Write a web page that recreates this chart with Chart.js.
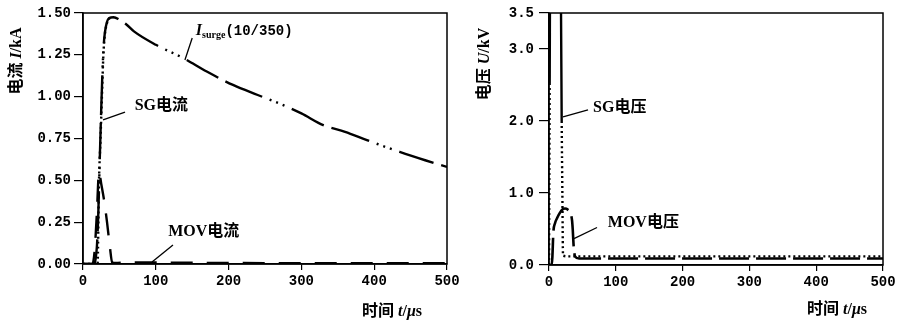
<!DOCTYPE html>
<html>
<head>
<meta charset="utf-8">
<script src="https://cdn.jsdelivr.net/npm/chart.js@4"></script>
<style>
  html, body { margin: 0; padding: 0; background: #fff; }
  #wrap { position: relative; width: 900px; height: 326px; overflow: hidden; background: #fff; }
  #left { position: absolute; left: 0; top: 0; }
  #right { position: absolute; left: 460px; top: 0; }
</style>
</head>
<body>
<div id="wrap">
  <canvas id="left" width="470" height="326"></canvas>
  <canvas id="right" width="440" height="326"></canvas>
</div>
<script>
// left panel: currents (kA) vs time (us)
const surgeT = [0, 14, 19, 21, 23, 25, 27, 29, 32, 36, 42, 50, 60, 70, 100, 138, 170, 206, 240, 275, 300, 330, 360, 390, 435, 470, 500];
const surgeI = [0, 0, 0.1, 0.3, 0.62, 0.92, 1.18, 1.34, 1.43, 1.47, 1.475, 1.46, 1.43, 1.39, 1.31, 1.23, 1.15, 1.07, 1.01, 0.95, 0.90, 0.83, 0.79, 0.74, 0.67, 0.62, 0.58];
const sgCurT = [0, 20, 22, 24, 26, 28, 30, 33, 37, 42];
const sgCurI = [0, 0, 0.5, 0.74, 1.0, 1.25, 1.37, 1.44, 1.47, 1.475];
const movCurT = [0, 13, 16, 19, 22, 25, 29, 33, 37, 40, 45, 60, 90, 130, 200, 300, 400, 500];
const movCurI = [0, 0, 0.08, 0.3, 0.55, 0.48, 0.38, 0.25, 0.1, 0.01, 0.006, 0.01, 0.01, 0.008, 0.006, 0.005, 0.005, 0.005];
const yTicksLeft = [0, 0.25, 0.5, 0.75, 1.0, 1.25, 1.5];

// right panel: voltages (kV) vs time (us)
const sgVoltT = [0, 1, 2, 17, 18, 19, 20, 21, 30, 60, 100, 200, 300, 400, 500];
const sgVoltU = [0, 2.5, 4.5, 4.5, 3.5, 2.0, 1.0, 0.13, 0.12, 0.12, 0.12, 0.12, 0.12, 0.12, 0.12];
const movVoltT = [0, 4, 5, 6.5, 9, 12, 16, 20, 24, 28, 32, 34.5, 35.5, 37, 39, 45, 100, 200, 300, 400, 500];
const movVoltU = [0, 0, 0.1, 0.45, 0.58, 0.65, 0.72, 0.77, 0.785, 0.77, 0.72, 0.62, 0.5, 0.25, 0.12, 0.09, 0.09, 0.09, 0.09, 0.09, 0.09];
const yTicksRight = [0, 1.0, 2.0, 3.0, 3.5];

const xTicks = [0, 100, 200, 300, 400, 500];

const SERIF = '"Liberation Serif", "Noto Sans CJK SC", serif';
const MONO = '"Liberation Mono", monospace';
const BOLD = 'bold 16px ' + SERIF;
const ITAL = 'italic bold 16px ' + SERIF;

function pts(xs, ys) {
  return xs.map((x, i) => ({ x: x, y: ys[i] }));
}

function drawParts(ctx, parts, x, y, align) {
  let w = 0;
  parts.forEach(p => { ctx.font = p.f; w += ctx.measureText(p.t).width; });
  let cx = align === 'center' ? x - w / 2 : x;
  ctx.textAlign = 'left';
  ctx.textBaseline = 'middle';
  parts.forEach(p => {
    ctx.font = p.f;
    ctx.fillText(p.t, cx, y + (p.dy || 0));
    cx += ctx.measureText(p.t).width;
  });
}

// frame, axis titles and labelled leader lines
function makeDecor(cfg) {
  return {
    id: 'decor',
    afterDraw(chart) {
      const { ctx, chartArea: a, scales } = chart;
      const sx = scales.x, sy = scales.y;
      ctx.save();
      ctx.strokeStyle = '#000';
      ctx.fillStyle = '#000';
      ctx.lineWidth = 1.5;
      ctx.strokeRect(a.left, a.top, a.right - a.left, a.bottom - a.top);

      ctx.save();
      ctx.translate(cfg.yTitle.x, cfg.yTitle.y);
      ctx.rotate(-Math.PI / 2);
      drawParts(ctx, cfg.yTitle.parts, 0, 0, 'center');
      ctx.restore();
      drawParts(ctx, cfg.xTitle.parts, cfg.xTitle.x, cfg.xTitle.y, 'left');

      cfg.notes.forEach(n => {
        ctx.lineWidth = 1.3;
        ctx.beginPath();
        ctx.moveTo(sx.getPixelForValue(n.from[0]), sy.getPixelForValue(n.from[1]));
        ctx.lineTo(sx.getPixelForValue(n.to[0]), sy.getPixelForValue(n.to[1]));
        ctx.stroke();
        drawParts(ctx, n.parts, sx.getPixelForValue(n.at[0]), sy.getPixelForValue(n.at[1]), 'left');
      });
      ctx.restore();
    }
  };
}

function noPad(scale) {
  scale.paddingLeft = 0; scale.paddingRight = 0;
  scale.paddingTop = 0; scale.paddingBottom = 0;
}

function baseOptions(opt) {
  return {
    responsive: false,
    animation: false,
    devicePixelRatio: 1,
    layout: { padding: { top: 13, right: opt.padRight, left: 0, bottom: 0 } },
    elements: { point: { radius: 0 }, line: { cubicInterpolationMode: 'monotone' } },
    plugins: { legend: { display: false }, tooltip: { enabled: false } },
    scales: {
      x: {
        type: 'linear', min: 0, max: 500,
        afterBuildTicks: s => { s.ticks = xTicks.map(v => ({ value: v })); },
        afterFit: s => { s.height = opt.xHeight; noPad(s); },
        grid: { drawOnChartArea: false, drawTicks: true, tickLength: 6, color: '#000', lineWidth: 1.2 },
        border: { display: true, color: '#000', width: 1.5 },
        ticks: { color: '#000', padding: 3, maxRotation: 0, font: { family: MONO, size: 14, weight: 'bold' }, callback: v => String(v) }
      },
      y: {
        type: 'linear', min: 0, max: opt.yMax,
        afterBuildTicks: s => { s.ticks = opt.yTicks.map(v => ({ value: v })); },
        afterFit: s => { s.width = opt.yWidth; noPad(s); },
        grid: { drawOnChartArea: false, drawTicks: true, tickLength: opt.yTickLen, color: '#000', lineWidth: 1.2 },
        border: { display: true, color: '#000', width: 1.5 },
        ticks: { color: '#000', padding: opt.yPad, font: { family: MONO, size: 14, weight: 'bold' }, callback: v => v.toFixed(opt.dec) }
      }
    }
  };
}

new Chart(document.getElementById('left'), {
  type: 'line',
  data: {
    datasets: [
      { label: 'Isurge(10/350)', data: pts(surgeT, surgeI), borderColor: '#000', borderWidth: 2.4,
        borderDash: [36, 8, 40, 8, 2, 5, 2, 5, 2, 8] },
      { label: 'SG电流', data: pts(sgCurT, sgCurI), borderColor: '#000', borderWidth: 2.4, borderDash: [2, 3] },
      { label: 'MOV电流', data: pts(movCurT, movCurI), borderColor: '#000', borderWidth: 2.4, borderDash: [22, 14] }
    ]
  },
  options: baseOptions({ padRight: 23, xHeight: 62, yWidth: 83, yMax: 1.5, yTicks: yTicksLeft, yTickLen: 9, yPad: 3, dec: 2 }),
  plugins: [makeDecor({
    yTitle: { x: 17, y: 61, parts: [{ t: '电流 ', f: BOLD }, { t: 'I', f: ITAL }, { t: '/kA', f: BOLD }] },
    xTitle: { x: 362, y: 312, parts: [{ t: '时间 ', f: BOLD }, { t: 't', f: ITAL }, { t: '/', f: BOLD }, { t: 'μ', f: ITAL }, { t: 's', f: BOLD }] },
    notes: [
      { at: [155, 1.392], from: [150, 1.351], to: [140, 1.219],
        parts: [{ t: 'I', f: ITAL }, { t: 'surge', f: 'bold 10px ' + SERIF, dy: 4 }, { t: '(10/350)', f: 'bold 14px ' + MONO }] },
      { at: [71, 0.944], from: [57.7, 0.908], to: [27.5, 0.861], parts: [{ t: 'SG电流', f: BOLD }] },
      { at: [117, 0.191], from: [123.6, 0.114], to: [94.8, 0.012], parts: [{ t: 'MOV电流', f: BOLD }] }
    ]
  })]
});

new Chart(document.getElementById('right'), {
  type: 'line',
  data: {
    datasets: [
      { label: 'SG电压', data: pts(sgVoltT, sgVoltU), borderColor: '#000', borderWidth: 2.4, borderDash: [2, 3],
        segment: { borderDash: c => (c.p0.parsed.y >= 2 && c.p1.parsed.y >= 2 ? [] : [2, 3]) } },
      { label: 'MOV电压', data: pts(movVoltT, movVoltU), borderColor: '#000', borderWidth: 2.6, borderDash: [30, 7] }
    ]
  },
  options: baseOptions({ padRight: 17, xHeight: 61, yWidth: 89, yMax: 3.5, yTicks: yTicksRight, yTickLen: 10, yPad: 5, dec: 1 }),
  plugins: [makeDecor({
    yTitle: { x: 25, y: 64, parts: [{ t: '电压 ', f: BOLD }, { t: 'U', f: ITAL }, { t: '/kV', f: BOLD }] },
    xTitle: { x: 347, y: 310, parts: [{ t: '时间 ', f: BOLD }, { t: 't', f: ITAL }, { t: '/', f: BOLD }, { t: 'μ', f: ITAL }, { t: 's', f: BOLD }] },
    notes: [
      { at: [66, 2.18], from: [58.4, 2.155], to: [21, 2.056], parts: [{ t: 'SG电压', f: BOLD }] },
      { at: [88, 0.59], from: [71.9, 0.521], to: [37.4, 0.366], parts: [{ t: 'MOV电压', f: BOLD }] }
    ]
  })]
});
</script>
</body>
</html>
